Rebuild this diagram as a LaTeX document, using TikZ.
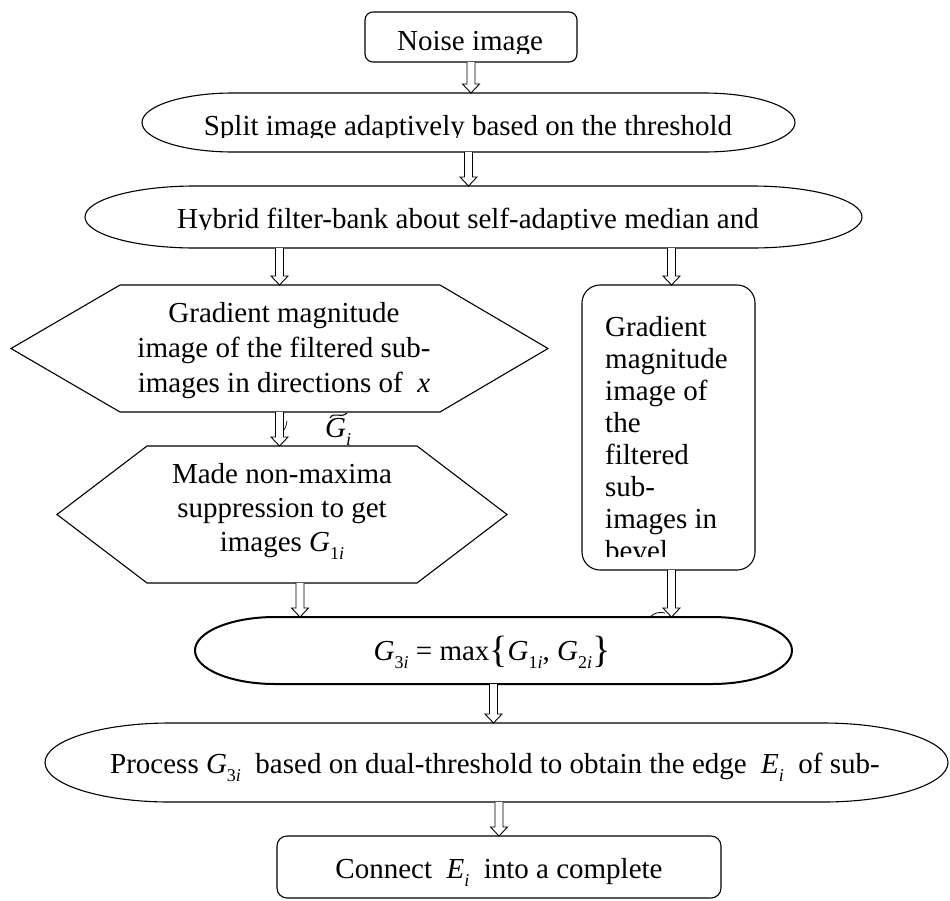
\documentclass[tikz,border=0pt]{standalone}
\usepackage{fontspec}
\setmainfont{Liberation Serif}
\usetikzlibrary{calc}
\tikzset{
  outline/.style={draw=black, line width=1.1pt},
  thickline/.style={draw=black, line width=2pt},
  harr/.style={draw=black, fill=white, line width=0.9pt, line join=miter},
  txt/.style={font=\fontsize{29}{33}\selectfont, inner sep=0pt, anchor=base},
  anchorbox/.style={inner sep=0pt, outer sep=0pt},
}
\newcommand\sub[1]{\raisebox{-0.28em}{\fontsize{18}{18}\selectfont #1}}
\newcommand\mkstadium[7]{%
  \node[anchorbox, minimum width={2*#4pt}, minimum height={2*#5pt}] (#1) at (#2,#3) {};
  \draw[#7] (#2-#4+#6,#3-#5) -- (#2+#4-#6,#3-#5)
    arc[start angle=90,end angle=-90,x radius=#6pt,y radius=#5pt]
    -- (#2-#4+#6,#3+#5)
    arc[start angle=270,end angle=90,x radius=#6pt,y radius=#5pt] -- cycle;}
\newcommand\mkhex[7]{%
  \node[anchorbox, minimum width={(#5-#2)*1pt}, minimum height={(#7-#6)*1pt}] (#1) at ({(#2+#5)/2},{(#6+#7)/2}) {};
  \draw[outline] (#2,{(#6+#7)/2}) -- (#3,#6) -- (#4,#6) -- (#5,{(#6+#7)/2}) -- (#4,#7) -- (#3,#7) -- cycle;}
\newcommand\harrow[2]{%
  \draw[harr] let \p1=(#1), \p2=(#2) in
    (\x1-4pt,\y1) -- (\x1-4pt,\y2+9pt) -- (\x1-8.5pt,\y2+9pt) -- (\x1,\y2)
    -- (\x1+8.5pt,\y2+9pt) -- (\x1+4pt,\y2+9pt) -- (\x1+4pt,\y1);}

\begin{document}
\begin{tikzpicture}[x=1pt,y=-1pt]
\useasboundingbox (0,0) rectangle (950,900);
\clip (0,0) rectangle (950,900);

% shapes
\node[outline, anchorbox, rounded corners=8pt, minimum width=212pt, minimum height=50pt] (noise) at (471,37) {};
\mkstadium{split}{468.5}{122.5}{326.5}{29.5}{91}{outline}
\mkstadium{hybrid}{473.5}{217}{388.5}{31}{110}{outline}
\mkhex{hex1}{11}{120}{440}{548}{285}{412}
\mkhex{hex2}{57}{147}{417}{507}{446}{583}
\node[outline, anchorbox, rounded corners=18pt, minimum width=173pt, minimum height=285pt] (rbox) at (668.5,427.5) {};
\mkstadium{g3}{493.5}{650.5}{298.5}{33.5}{80}{thickline}
\mkstadium{proc}{496.5}{762.5}{451.5}{39.5}{125}{outline}
\node[outline, anchorbox, rounded corners=10pt, minimum width=444pt, minimum height=62pt] (conn) at (499,867) {};

% texts
\begin{scope}
  \clip (300,0) rectangle (650,53);
  \node[txt] (tnoise) at (470,50) {Noise image};
\end{scope}
\begin{scope}
  \clip (150,95) rectangle (790,137);
  \node[txt] (tsplit) at (468,135) {Split image adaptively based on the threshold};
\end{scope}
\begin{scope}
  \clip (90,190) rectangle (860,229);
  \node[txt] (thybrid) at (468,228) {Hybrid filter-bank about self-adaptive median and};
\end{scope}
\node[txt] (th1a) at (284,322) {Gradient magnitude};
\node[txt] (th1b) at (284,357) {image of the filtered sub-};
\node[txt] (th1c) at (284,392) {images in directions of \ \textit{x}};
\node[txt] (th2a) at (282,483) {Made non-maxima};
\node[txt] (th2b) at (282,517) {suppression to get};
\node[txt] (th2c) at (282,551) {images \textit{G}\sub{1\textit{i}}};
\begin{scope}
  \clip (585,290) rectangle (752,556);
  \foreach \t [count=\i] in {Gradient, magnitude, image of, the, filtered, sub-, images in, bevel}
    \node[txt, anchor=base west] (rb\i) at (605,{304+32*\i}) {\t};
\end{scope}
\node[txt, anchor=base west] (gtilde) at (325,437) {\textit{G}\sub{\textit{i}}};
\draw[line width=1.1pt] (330,418) .. controls (334,411) and (340,419) .. (347,413);
\node[txt] (tg3) at (492,660) {\textit{G}\sub{3\textit{i}} = max\raisebox{-0.08em}{\fontsize{38}{38}\selectfont\{}\textit{G}\sub{1\textit{i}}, \textit{G}\sub{2\textit{i}}\raisebox{-0.08em}{\fontsize{38}{38}\selectfont\}}};
\node[txt] (tproc) at (495,773) {Process \textit{G}\sub{3\textit{i}}\ \ based on dual-threshold to obtain the edge \ \textit{E}\sub{\textit{i}}\ \ of sub-};
\node[txt] (tconn) at (499,878) {Connect \ \textit{E}\sub{\textit{i}}\ \ into a complete};

% small clipped fragments
\draw[line width=0.7pt] (283,431) .. controls (286,427) .. (287,421);
\draw[line width=0.8pt] (650,617) .. controls (655,612) and (660,612) .. (665,613);

% arrows
\harrow{noise.south}{split.north}
\harrow{split.south}{hybrid.north}
\harrow{hybrid.south -| hex1.north}{hex1.north}
\harrow{$(hybrid.south -| rbox.north)+(3,0)$}{rbox.north}
\harrow{hex1.south}{hex2.north}
\harrow{$(hex2.south)+(18,0)$}{g3.north}
\harrow{$(rbox.south)+(3,0)$}{g3.north}
\harrow{g3.south}{proc.north}
\harrow{proc.south -| conn.north}{conn.north}
\end{tikzpicture}
\end{document}
